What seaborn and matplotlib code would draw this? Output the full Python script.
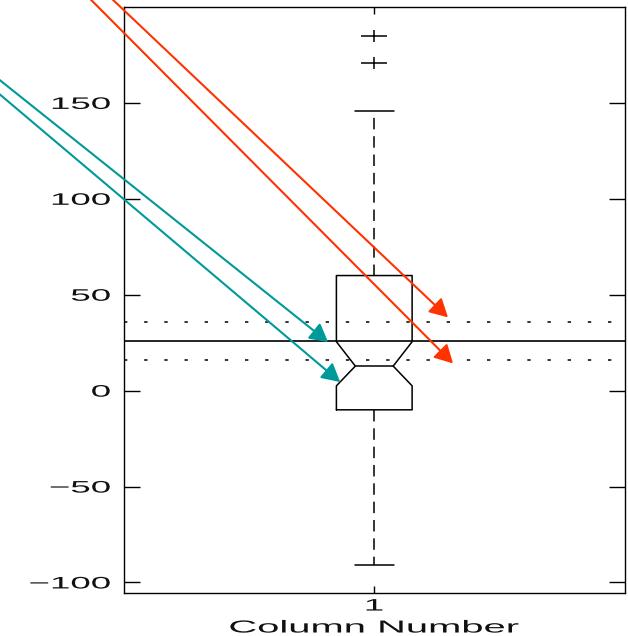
import matplotlib
matplotlib.use("Agg")
import matplotlib.pyplot as plt
import seaborn as sns
from matplotlib.path import Path
from matplotlib.patheffects import AbstractPathEffect
from matplotlib.transforms import Affine2D

# Box summary
columns = [1]
q1 = [-10]
q3 = [60]
medians = [12.8]
notch_low = [2.5]
notch_high = [25.5]
whisker_low = [-91]
whisker_high = [146]
outliers = [[171, 185]]

# reference line and its band
ref_line = 26
ref_band = [16, 36]

y_ticks = [-100, -50, 0, 50, 100, 150]

# arrows: (tip x, tip y) in data, start in figure fraction
teal_tips = [(0.908, 25.3), (0.932, 4.5)]
teal_starts = [(-0.032, 0.899), (-0.032, 0.878)]
red_tips = [(1.147, 38.2), (1.157, 14.2)]
red_starts = [(0.147, 1.031), (0.114, 1.031)]


class WideText(AbstractPathEffect):
    # the source picture is stretched sideways, so stretch the glyphs too
    def __init__(self, sx, anchor="center"):
        super().__init__()
        self.sx = sx
        self.anchor = anchor

    def draw_path(self, renderer, gc, tpath, affine, rgbFace=None):
        ext = tpath.get_extents()
        x0 = ext.x1 if self.anchor == "right" else (ext.x0 + ext.x1) / 2
        t = Affine2D().translate(-x0, 0).scale(self.sx, 1).translate(x0, 0) + affine
        renderer.draw_path(gc, tpath, t, rgbFace)


sns.set_theme(style="white")
plt.rcParams["font.family"] = ["Liberation Sans", "DejaVu Sans"]

fig = plt.figure(figsize=(6.28, 6.36), dpi=100)
ax = fig.add_axes([0.1967, 0.0676, 0.7985, 0.9214])

stats = []
for i in range(len(columns)):
    stats.append(dict(med=medians[i], q1=q1[i], q3=q3[i],
                      whislo=whisker_low[i], whishi=whisker_high[i],
                      cilo=notch_low[i], cihi=notch_high[i],
                      fliers=outliers[i]))

# wide plus marker
plus = Path([(-1, 0), (1, 0), (0, -0.47), (0, 0.47)],
            [Path.MOVETO, Path.LINETO, Path.MOVETO, Path.LINETO])

ax.bxp(stats, positions=columns, widths=0.151, capwidths=0.078,
       shownotches=True, showfliers=True,
       boxprops=dict(color="black", lw=1.1),
       whiskerprops=dict(color="black", lw=1.1, linestyle=(0, (7.5, 4.5))),
       capprops=dict(color="black", lw=1.1),
       medianprops=dict(color="black", lw=1.1),
       flierprops=dict(marker=plus, markersize=19, markeredgecolor="black",
                       markeredgewidth=1.1, linestyle="none"))

ax.axhline(ref_line, color="black", lw=1.2)
for v in ref_band:
    ax.axhline(v, color="black", lw=1.1, linestyle=(0, (2.2, 11)))

ax.set_xlim(0.5, 1.5)
ax.set_ylim(-105.5, 200)
ax.set_xticks(columns)
ax.set_xticklabels([str(c) for c in columns])
ax.set_yticks(y_ticks)
ax.set_yticklabels([str(t).replace("-", "\u2212") for t in y_ticks])

for s in ax.spines.values():
    s.set_color("black")
    s.set_linewidth(1.0)

ax.tick_params(axis="y", direction="in", length=11.5, width=1.0, color="black",
               left=True, right=True, labelsize=12, pad=9.5, labelcolor="#111111")
ax.tick_params(axis="x", direction="in", length=5, width=1.0, color="black",
               bottom=True, top=True, labelsize=12, pad=4, labelcolor="#111111")

for lab in ax.get_yticklabels():
    lab.set_path_effects([WideText(2.2, "right")])
for lab in ax.get_xticklabels():
    lab.set_path_effects([WideText(2.2)])

ax.set_xlabel("Column Number", fontsize=12.5, labelpad=5, color="#111111",
              path_effects=[WideText(2.3)])

for tip, start in zip(teal_tips, teal_starts):
    ax.annotate("", xy=tip, xycoords="data", xytext=start, textcoords="figure fraction",
                annotation_clip=False,
                arrowprops=dict(arrowstyle="-|>,head_length=0.55,head_width=0.3",
                                mutation_scale=20, color="#009999", lw=1.5,
                                shrinkA=0, shrinkB=0))
for tip, start in zip(red_tips, red_starts):
    ax.annotate("", xy=tip, xycoords="data", xytext=start, textcoords="figure fraction",
                annotation_clip=False,
                arrowprops=dict(arrowstyle="-|>,head_length=0.55,head_width=0.3",
                                mutation_scale=20, color="#ff3300", lw=1.5,
                                shrinkA=0, shrinkB=0))

fig.savefig("out.png", dpi=100)
